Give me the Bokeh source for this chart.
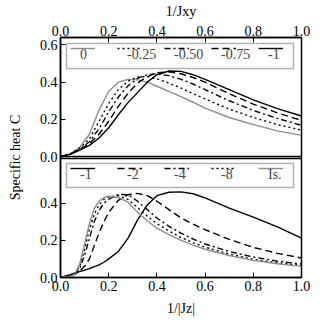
from bokeh.plotting import figure
from bokeh.models import (Range1d, LinearAxis, FixedTicker, Legend, LegendItem,
                          Span, PrintfTickFormatter, BoxAnnotation)
from bokeh.embed import file_html
from bokeh.resources import INLINE

# ---------------- data ----------------
# top panel: C vs 1/J_xy for several J_z
x_top = [0, 0.04, 0.08, 0.12, 0.16, 0.2, 0.24, 0.28, 0.32, 0.36, 0.4, 0.45, 0.5,
         0.55, 0.6, 0.7, 0.8, 0.9, 1.0]
top_0 = [0, 0.015, 0.05, 0.12, 0.25, 0.35, 0.40, 0.415, 0.412, 0.40, 0.378, 0.35,
         0.322, 0.292, 0.26, 0.21, 0.172, 0.138, 0.114]
top_m025 = [0, 0.014, 0.045, 0.095, 0.19, 0.285, 0.36, 0.405, 0.428, 0.43, 0.418,
            0.395, 0.368, 0.338, 0.31, 0.255, 0.21, 0.172, 0.142]
top_m050 = [0, 0.013, 0.04, 0.08, 0.15, 0.24, 0.32, 0.38, 0.42, 0.44, 0.445, 0.435,
            0.415, 0.39, 0.36, 0.3, 0.248, 0.205, 0.168]
top_m075 = [0, 0.012, 0.037, 0.07, 0.12, 0.19, 0.27, 0.34, 0.395, 0.43, 0.45, 0.455,
            0.445, 0.425, 0.4, 0.338, 0.282, 0.235, 0.194]
top_m1 = [0, 0.012, 0.035, 0.06, 0.1, 0.155, 0.225, 0.29, 0.345, 0.40, 0.44, 0.46,
          0.458, 0.44, 0.415, 0.36, 0.305, 0.258, 0.218]
top_labels = ["0", "-0.25", "-0.50", "-0.75", "-1"]

# bottom panel: C vs 1/|J_z|
x_bot = [0, 0.04, 0.06, 0.08, 0.1, 0.12, 0.14, 0.16, 0.18, 0.2, 0.24, 0.28, 0.32,
         0.36, 0.4, 0.45, 0.5, 0.55, 0.6, 0.7, 0.8, 0.9, 1.0]
bot_m1 = [0, 0.015, 0.025, 0.032, 0.04, 0.048, 0.058, 0.068, 0.082, 0.1, 0.14, 0.21,
          0.31, 0.39, 0.44, 0.458, 0.46, 0.45, 0.428, 0.373, 0.325, 0.272, 0.212]
bot_m2 = [0, 0.008, 0.018, 0.035, 0.06, 0.1, 0.17, 0.24, 0.3, 0.35, 0.415, 0.445,
          0.452, 0.44, 0.41, 0.365, 0.32, 0.287, 0.257, 0.205, 0.162, 0.13, 0.105]
bot_m4 = [0, 0.007, 0.02, 0.05, 0.12, 0.21, 0.3, 0.36, 0.4, 0.42, 0.447, 0.445, 0.41,
          0.365, 0.32, 0.275, 0.238, 0.207, 0.18, 0.14, 0.11, 0.088, 0.072]
bot_m8 = [0, 0.006, 0.02, 0.06, 0.15, 0.26, 0.34, 0.39, 0.42, 0.432, 0.44, 0.42,
          0.375, 0.33, 0.29, 0.25, 0.215, 0.187, 0.163, 0.126, 0.098, 0.079, 0.065]
bot_is = [0, 0.006, 0.02, 0.075, 0.18, 0.29, 0.37, 0.41, 0.43, 0.437, 0.43, 0.405,
          0.35, 0.305, 0.265, 0.23, 0.2, 0.174, 0.152, 0.118, 0.092, 0.074, 0.06]
bot_labels = ["-1", "-2", "-4", "-8", "Is."]

x_ticks = [0.0, 0.2, 0.4, 0.6, 0.8, 1.0]
y_ticks_top = [0.0, 0.2, 0.4, 0.6]
y_ticks_bot = [0.0, 0.2, 0.4]

x_title_top = "1/Jxy"
x_title_bot = "1/|Jz|"
y_title = "Specific heat C"

# ---------------- styling ----------------
FONT = "Liberation Serif, DejaVu Serif, serif"
FS = "14px"
GRAY = "#8c8c8c"
LW = 1.4
DOT = "2 3"
DASHDOT = "6 3 2 3"
DASH = "7 4"

TOP_LO, TOP_HI = -0.65, 0.64
BOT_LO, BOT_HI = 0.0, 1.29
offset = TOP_LO - BOT_LO   # bottom-panel value -> default range value

p = figure(frame_width=241, frame_height=240, output_backend="svg",
           toolbar_location=None,
           x_range=Range1d(0, 1), y_range=Range1d(TOP_LO, TOP_HI),
           min_border_left=60, min_border_right=10, min_border_top=35,
           min_border_bottom=41, x_axis_location=None, y_axis_location=None)
p.extra_y_ranges = {"bot": Range1d(BOT_LO, BOT_HI)}
p.grid.visible = False
p.outline_line_color = "black"
p.outline_line_width = 1.5
p.background_fill_color = "white"
p.border_fill_color = "white"

ytick_pos = [v + offset for v in y_ticks_bot] + list(y_ticks_top)
ytick_lab = ["%.1f" % v for v in y_ticks_bot] + ["%.1f" % v for v in y_ticks_top]
overrides = {pos: lab for pos, lab in zip(ytick_pos, ytick_lab)}


def style_axis(ax):
    ax.major_tick_in = 5
    ax.major_tick_out = 0
    ax.minor_tick_line_color = None
    ax.axis_line_width = 1.5
    ax.major_tick_line_width = 1
    ax.major_label_text_font = FONT
    ax.major_label_text_font_size = FS
    ax.major_label_text_color = "black"
    ax.major_label_standoff = 2
    ax.axis_label_text_font = FONT
    ax.axis_label_text_font_size = FS
    ax.axis_label_text_font_style = "normal"
    ax.axis_label_text_color = "black"
    ax.axis_label_standoff = 3


yl = LinearAxis(ticker=FixedTicker(ticks=ytick_pos), axis_label=y_title)
yl.major_label_overrides = overrides
style_axis(yl)
yl.major_label_standoff = 3
yl.axis_label_standoff = 14
p.add_layout(yl, "left")

xb = LinearAxis(ticker=FixedTicker(ticks=x_ticks), axis_label=x_title_bot,
                formatter=PrintfTickFormatter(format="%.1f"))
style_axis(xb)
xb.major_label_standoff = 3
xb.axis_label_standoff = 7
p.add_layout(xb, "below")

xa = LinearAxis(ticker=FixedTicker(ticks=x_ticks), axis_label=x_title_top,
                formatter=PrintfTickFormatter(format="%.1f"))
style_axis(xa)
xa.axis_label_standoff = 4
p.add_layout(xa, "above")

# panel separation lines
p.add_layout(Span(location=0.0, dimension="width", line_color="black", line_width=1.5))
p.add_layout(Span(location=TOP_HI, dimension="width", line_color="black",
                  line_width=1.5, y_range_name="bot"))

# ---------------- lines ----------------
top_series = [top_0, top_m025, top_m050, top_m075, top_m1]
top_styles = [(GRAY, "solid"), ("black", DOT), ("black", DASHDOT),
              ("black", DASH), ("black", "solid")]
top_r = []
for ys, (c, d) in zip(top_series, top_styles):
    top_r.append(p.line(x_top, ys, line_color=c, line_dash=d, line_width=LW))

bot_series = [bot_m1, bot_m2, bot_m4, bot_m8, bot_is]
bot_styles = [("black", "solid"), ("black", DASH), ("black", DASHDOT),
              ("black", DOT), (GRAY, "solid")]
bot_r = []
for ys, (c, d) in zip(bot_series, bot_styles):
    bot_r.append(p.line(x_bot, ys, line_color=c, line_dash=d, line_width=LW,
                        y_range_name="bot"))


# ---------------- legends: sample line above its label ----------------
def make_legend(labels, renderers, box_bottom, box_top, line_y, label_y):
    p.add_layout(BoxAnnotation(left=6, right=233, bottom=box_bottom, top=box_top,
                               left_units="screen", right_units="screen",
                               bottom_units="screen", top_units="screen",
                               fill_color="white", fill_alpha=1.0,
                               line_color="black", line_width=1.5, level="annotation"))
    lb = Legend(items=[LegendItem(label=l, renderers=[r]) for l, r in zip(labels, renderers)],
                orientation="horizontal", location=(8, label_y),
                glyph_width=0, glyph_height=1, label_standoff=12, label_width=35,
                label_height=14, spacing=0, padding=0, margin=0,
                label_text_font=FONT, label_text_font_size=FS,
                label_text_align="center",
                border_line_color=None, background_fill_alpha=0.0)
    p.add_layout(lb)
    ln = Legend(items=[LegendItem(label="", renderers=[r]) for r in renderers],
                orientation="horizontal", location=(10, line_y),
                glyph_width=25, glyph_height=4, label_standoff=0, label_width=22,
                label_height=4, spacing=0, padding=0, margin=0,
                label_text_font_size="1px",
                border_line_color=None, background_fill_alpha=0.0)
    p.add_layout(ln)


make_legend(top_labels, top_r, 209, 234, 227.5, 214.5)
make_legend(bot_labels, bot_r, 90, 114, 107.5, 94.5)

open("out.html", "w").write(file_html(p, INLINE))
